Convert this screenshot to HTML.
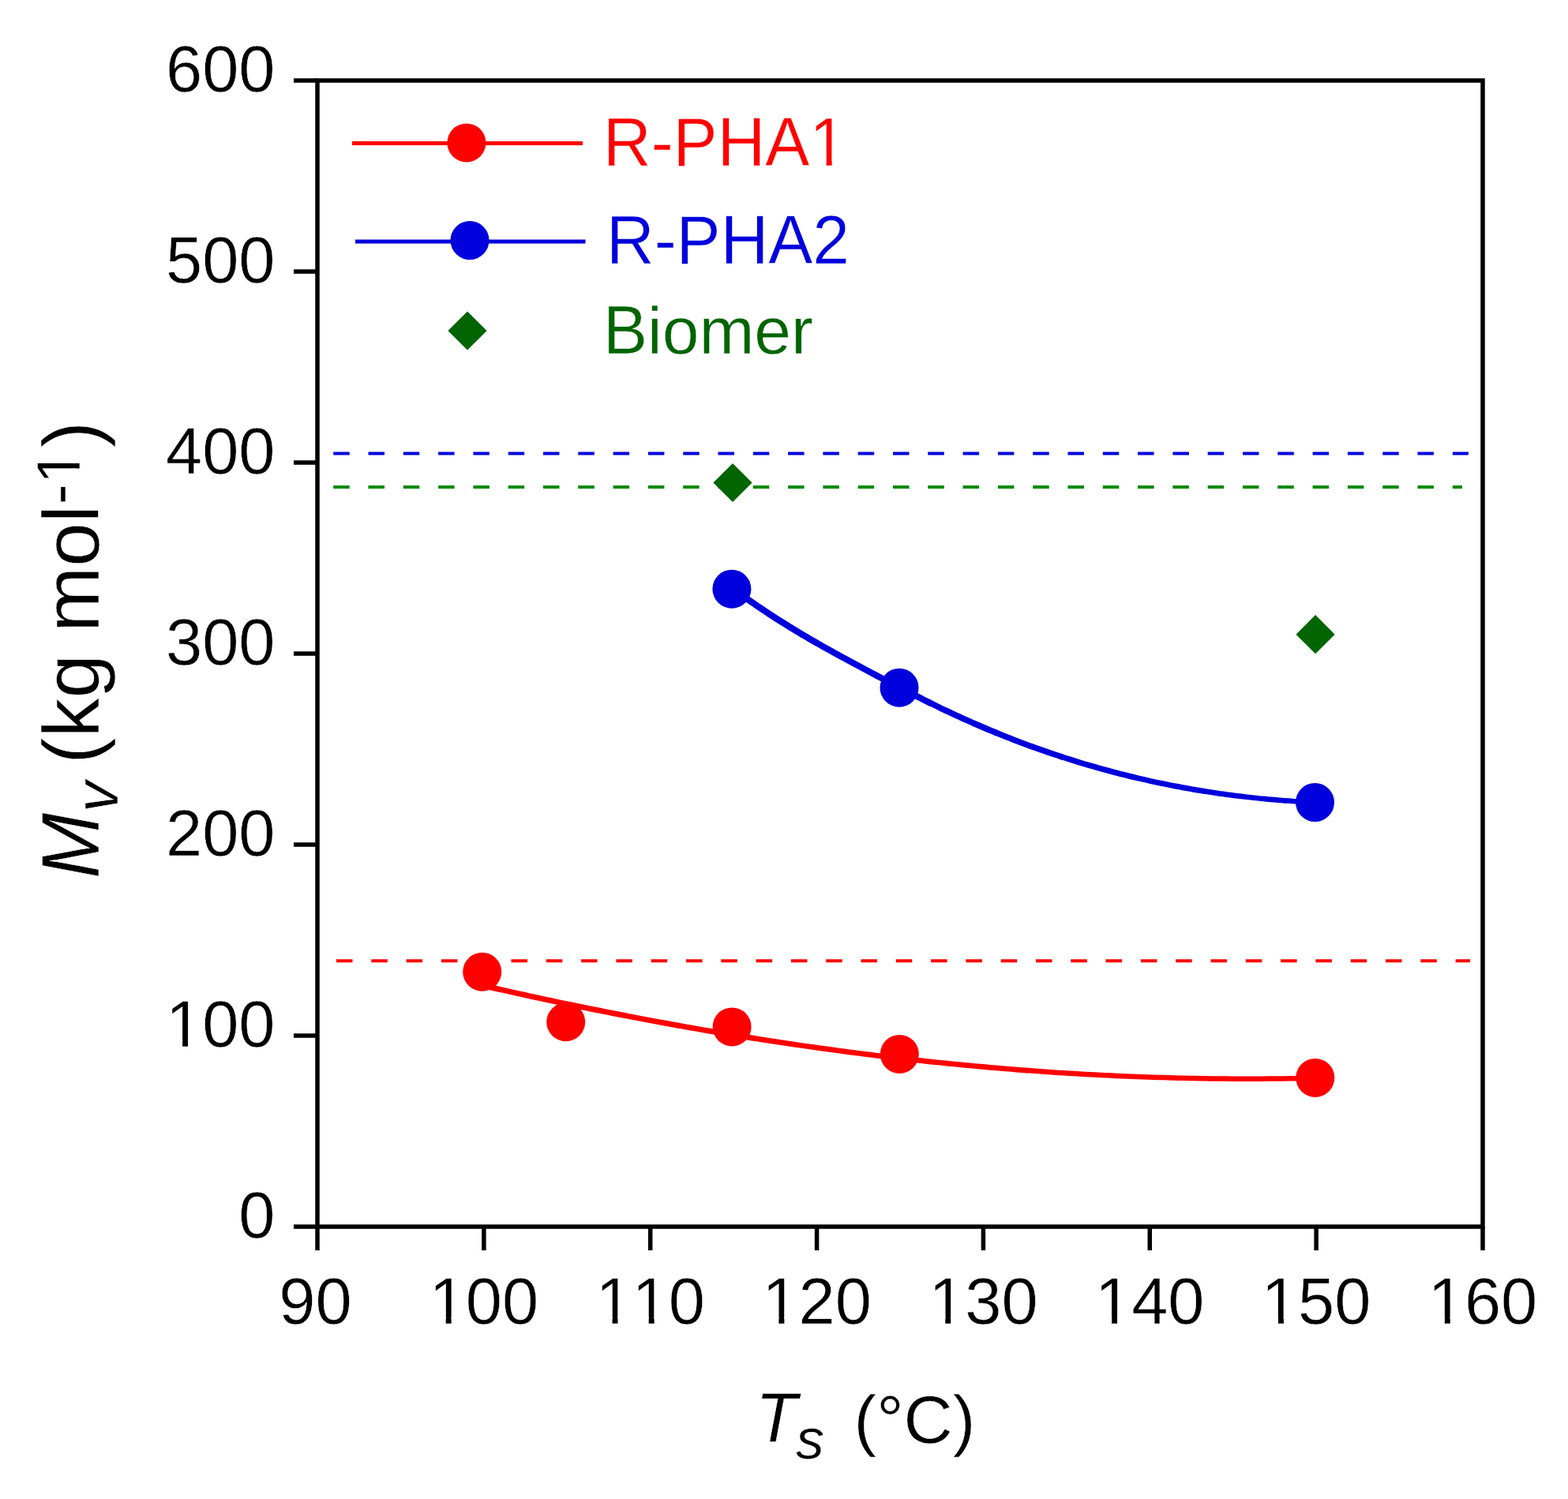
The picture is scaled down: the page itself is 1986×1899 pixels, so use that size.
<!DOCTYPE html>
<html><head><meta charset="utf-8"><title>Mv vs Ts</title>
<style>html,body{margin:0;padding:0;background:#fff;overflow:hidden;}svg{display:block;}text{font-kerning:none;stroke:#fff;stroke-width:0.5px;paint-order:fill;}</style>
</head><body>
<svg width="1986" height="1899" viewBox="0 0 1986 1899">
<rect width="1986" height="1899" fill="#fff"/>
<g fill="none" stroke-width="4" stroke-dasharray="20.5 23.8">
<line x1="422.2" y1="574.5" x2="1860" y2="574.5" stroke="#0000dc"/>
<line x1="422.2" y1="617" x2="1852" y2="617" stroke="#008a00"/>
<line x1="426" y1="1217.2" x2="1862" y2="1217.2" stroke="#ff0000"/>
</g>
<g fill="none" stroke="#ff0000" stroke-linecap="round" stroke-linejoin="round"><path d="M611.0,1248.4 L617.6,1250.0 L624.3,1251.5 L630.9,1253.0 L637.5,1254.4 L644.2,1255.9 L650.8,1257.4 L657.4,1258.9 L664.1,1260.3 L670.7,1261.8 L677.4,1263.2 L684.0,1264.6 L690.6,1266.1 L697.3,1267.5 L703.9,1268.9 L710.5,1270.3 L717.2,1271.7 L723.8,1273.0 L730.4,1274.4 L737.1,1275.8 L743.7,1277.1 L750.3,1278.5 L757.0,1279.8 L763.6,1281.1 L770.2,1282.4 L776.9,1283.7 L783.5,1285.0 L790.2,1286.3 L796.8,1287.6 L803.4,1288.9 L810.1,1290.1 L816.7,1291.4 L823.3,1292.6 L830.0,1293.9 L836.6,1295.1 L843.2,1296.3 L849.9,1297.5 L856.5,1298.7 L863.1,1299.9 L869.8,1301.1 L876.4,1302.2 L883.0,1303.4 L889.7,1304.6 L896.3,1305.7 L902.9,1306.8 L909.6,1307.9 L916.2,1309.1 L922.9,1310.2 L929.5,1311.2 L936.1,1312.3 L942.8,1313.4 L949.4,1314.5 L956.0,1315.5" stroke-width="7.0"/><path d="M956.0,1315.5 L962.7,1316.6 L969.3,1317.6 L975.9,1318.6 L982.6,1319.6 L989.2,1320.6 L995.8,1321.6 L1002.5,1322.6 L1009.1,1323.6 L1015.7,1324.5 L1022.4,1325.5 L1029.0,1326.4 L1035.7,1327.4 L1042.3,1328.3 L1048.9,1329.2 L1055.6,1330.1 L1062.2,1331.0 L1068.8,1331.9 L1075.5,1332.8 L1082.1,1333.6 L1088.7,1334.5 L1095.4,1335.3 L1102.0,1336.1 L1108.6,1337.0 L1115.3,1337.8 L1121.9,1338.6 L1128.5,1339.4 L1135.2,1340.1 L1141.8,1340.9 L1148.5,1341.7 L1155.1,1342.4 L1161.7,1343.1 L1168.4,1343.9 L1175.0,1344.6 L1181.6,1345.3 L1188.3,1346.0 L1194.9,1346.7 L1201.5,1347.3 L1208.2,1348.0 L1214.8,1348.6 L1221.4,1349.3 L1228.1,1349.9 L1234.7,1350.5 L1241.3,1351.1 L1248.0,1351.7 L1254.6,1352.3 L1261.3,1352.9 L1267.9,1353.4 L1274.5,1354.0 L1281.2,1354.5 L1287.8,1355.1 L1294.4,1355.6 L1301.1,1356.1" stroke-width="6.75"/><path d="M1301.1,1356.1 L1307.7,1356.6 L1314.3,1357.0 L1321.0,1357.5 L1327.6,1358.0 L1334.2,1358.4 L1340.9,1358.9 L1347.5,1359.3 L1354.1,1359.7 L1360.8,1360.1 L1367.4,1360.5 L1374.1,1360.9 L1380.7,1361.2 L1387.3,1361.6 L1394.0,1361.9 L1400.6,1362.3 L1407.2,1362.6 L1413.9,1362.9 L1420.5,1363.2 L1427.1,1363.5 L1433.8,1363.8 L1440.4,1364.0 L1447.0,1364.3 L1453.7,1364.5 L1460.3,1364.7 L1466.9,1364.9 L1473.6,1365.1 L1480.2,1365.3 L1486.8,1365.5 L1493.5,1365.7 L1500.1,1365.8 L1506.8,1366.0 L1513.4,1366.1 L1520.0,1366.2 L1526.7,1366.3 L1533.3,1366.4 L1539.9,1366.5 L1546.6,1366.6 L1553.2,1366.6 L1559.8,1366.7 L1566.5,1366.7 L1573.1,1366.7 L1579.7,1366.7 L1586.4,1366.7 L1593.0,1366.7 L1599.6,1366.7 L1606.3,1366.6 L1612.9,1366.6 L1619.6,1366.5 L1626.2,1366.4 L1632.8,1366.3 L1639.5,1366.2 L1646.1,1366.1 L1652.7,1365.9 L1659.4,1365.8 L1666.0,1365.6" stroke-width="6.5"/></g>
<g fill="none" stroke="#0000dc" stroke-linecap="round" stroke-linejoin="round"><path d="M927.0,744.8 L931.6,748.2 L936.3,751.6 L940.9,754.9 L945.6,758.2 L950.2,761.5 L954.9,764.7 L959.5,767.9 L964.2,771.0 L968.8,774.1 L973.4,777.2 L978.1,780.2 L982.7,783.2 L987.4,786.2 L992.0,789.1 L996.7,792.0 L1001.3,794.9 L1006.0,797.7 L1010.6,800.5 L1015.2,803.3 L1019.9,806.0 L1024.5,808.8 L1029.2,811.5 L1033.8,814.1" stroke-width="8.25"/><path d="M1033.8,814.1 L1038.5,816.8 L1043.1,819.4 L1047.8,822.0 L1052.4,824.6 L1057.1,827.2 L1061.7,829.8 L1066.3,832.3 L1071.0,834.8 L1075.6,837.3 L1080.3,839.8 L1084.9,842.3 L1089.6,844.8 L1094.2,847.3 L1098.9,849.7 L1103.5,852.2 L1108.1,854.6 L1112.8,857.1 L1117.4,859.5 L1122.1,861.9 L1126.7,864.4 L1131.4,866.8 L1136.0,869.2 L1140.7,871.6 L1145.3,874.0 L1149.9,876.4 L1154.6,878.7 L1159.2,881.1 L1163.9,883.4 L1168.5,885.8 L1173.2,888.1 L1177.8,890.4" stroke-width="8.0"/><path d="M1177.8,890.4 L1182.5,892.6 L1187.1,894.9 L1191.7,897.2 L1196.4,899.4 L1201.0,901.6 L1205.7,903.8 L1210.3,905.9 L1215.0,908.1 L1219.6,910.2 L1224.3,912.3 L1228.9,914.3 L1233.5,916.4 L1238.2,918.4 L1242.8,920.4 L1247.5,922.4 L1252.1,924.3 L1256.8,926.3 L1261.4,928.2" stroke-width="7.75"/><path d="M1261.4,928.2 L1266.1,930.1 L1270.7,931.9 L1275.3,933.8 L1280.0,935.6 L1284.6,937.4 L1289.3,939.2 L1293.9,940.9 L1298.6,942.7 L1303.2,944.4 L1307.9,946.1 L1312.5,947.8 L1317.2,949.4 L1321.8,951.0 L1326.4,952.6 L1331.1,954.2 L1335.7,955.8 L1340.4,957.3 L1345.0,958.9" stroke-width="7.5"/><path d="M1345.0,958.9 L1349.7,960.4 L1354.3,961.8 L1359.0,963.3 L1363.6,964.7 L1368.2,966.2 L1372.9,967.6 L1377.5,968.9 L1382.2,970.3 L1386.8,971.6 L1391.5,973.0 L1396.1,974.2 L1400.8,975.5 L1405.4,976.8 L1410.0,978.0 L1414.7,979.2 L1419.3,980.4 L1424.0,981.6 L1428.6,982.7 L1433.3,983.9" stroke-width="7.25"/><path d="M1433.3,983.9 L1437.9,985.0 L1442.6,986.1 L1447.2,987.2 L1451.8,988.2 L1456.5,989.3 L1461.1,990.3 L1465.8,991.3 L1470.4,992.2 L1475.1,993.2 L1479.7,994.1 L1484.4,995.1 L1489.0,996.0 L1493.6,996.8 L1498.3,997.7 L1502.9,998.5 L1507.6,999.4 L1512.2,1000.2 L1516.9,1001.0 L1521.5,1001.7 L1526.2,1002.5" stroke-width="7.0"/><path d="M1526.2,1002.5 L1530.8,1003.2 L1535.4,1003.9 L1540.1,1004.6 L1544.7,1005.3 L1549.4,1005.9 L1554.0,1006.6 L1558.7,1007.2 L1563.3,1007.8 L1568.0,1008.4 L1572.6,1008.9 L1577.3,1009.5 L1581.9,1010.0 L1586.5,1010.5 L1591.2,1011.0 L1595.8,1011.5 L1600.5,1011.9 L1605.1,1012.4 L1609.8,1012.8 L1614.4,1013.2 L1619.1,1013.6 L1623.7,1014.0 L1628.3,1014.3" stroke-width="6.75"/><path d="M1628.3,1014.3 L1633.0,1014.6 L1637.6,1015.0 L1642.3,1015.3 L1646.9,1015.5 L1651.6,1015.8 L1656.2,1016.0 L1660.9,1016.3 L1665.5,1016.5" stroke-width="6.5"/></g>
<circle cx="610.7" cy="1231.2" r="24.5" fill="#ff0000"/>
<circle cx="716.7" cy="1294.7" r="24.5" fill="#ff0000"/>
<circle cx="927.1" cy="1300.9" r="24.5" fill="#ff0000"/>
<circle cx="1139.3" cy="1335.4" r="24.5" fill="#ff0000"/>
<circle cx="1665.8" cy="1365.4" r="24.5" fill="#ff0000"/>
<circle cx="926.9" cy="746.2" r="24.5" fill="#0000dc"/>
<circle cx="1139" cy="871.2" r="24.5" fill="#0000dc"/>
<circle cx="1665.5" cy="1016.5" r="24.5" fill="#0000dc"/>
<path d="M928,586.9 L952.6,611.5 L928,636.1 L903.4,611.5 Z" fill="#006400"/>
<path d="M1666.1,779.1 L1690.6999999999998,803.7 L1666.1,828.3000000000001 L1641.5,803.7 Z" fill="#006400"/>
<g stroke="#000" stroke-width="5.5" fill="none" stroke-linecap="butt">
<rect x="402.0" y="102.0" width="1476.0" height="1452.0" stroke-linejoin="miter"/>
<line x1="372.0" y1="1554.00" x2="402.0" y2="1554.00"/>
<line x1="372.0" y1="1312.00" x2="402.0" y2="1312.00"/>
<line x1="372.0" y1="1070.00" x2="402.0" y2="1070.00"/>
<line x1="372.0" y1="828.00" x2="402.0" y2="828.00"/>
<line x1="372.0" y1="586.00" x2="402.0" y2="586.00"/>
<line x1="372.0" y1="344.00" x2="402.0" y2="344.00"/>
<line x1="372.0" y1="102.00" x2="402.0" y2="102.00"/>
<line x1="402.00" y1="1554.0" x2="402.00" y2="1584.0"/>
<line x1="612.86" y1="1554.0" x2="612.86" y2="1584.0"/>
<line x1="823.71" y1="1554.0" x2="823.71" y2="1584.0"/>
<line x1="1034.57" y1="1554.0" x2="1034.57" y2="1584.0"/>
<line x1="1245.43" y1="1554.0" x2="1245.43" y2="1584.0"/>
<line x1="1456.29" y1="1554.0" x2="1456.29" y2="1584.0"/>
<line x1="1667.14" y1="1554.0" x2="1667.14" y2="1584.0"/>
<line x1="1878.00" y1="1554.0" x2="1878.00" y2="1584.0"/>
</g>
<g font-family="Liberation Sans, Arial, sans-serif" font-size="83" fill="#000">
<text x="348.5" y="1568.2" text-anchor="end">0</text>
<text x="348.5" y="1326.2" text-anchor="end">100</text>
<text x="348.5" y="1084.2" text-anchor="end">200</text>
<text x="348.5" y="842.2" text-anchor="end">300</text>
<text x="348.5" y="600.2" text-anchor="end">400</text>
<text x="348.5" y="358.2" text-anchor="end">500</text>
<text x="348.5" y="116.2" text-anchor="end">600</text>
<text x="399.5" y="1677.3" text-anchor="middle">90</text>
<text x="612.9" y="1677.3" text-anchor="middle">100</text>
<text x="823.7" y="1677.3" text-anchor="middle">110</text>
<text x="1034.6" y="1677.3" text-anchor="middle">120</text>
<text x="1245.4" y="1677.3" text-anchor="middle">130</text>
<text x="1456.3" y="1677.3" text-anchor="middle">140</text>
<text x="1667.1" y="1677.3" text-anchor="middle">150</text>
<text x="1878.0" y="1677.3" text-anchor="middle">160</text>
</g>
<rect x="547.79" y="1668.59" width="16.89" height="10.21" fill="#fff"/>
<rect x="571.65" y="1668.59" width="15.98" height="10.21" fill="#fff"/>
<rect x="758.64" y="1668.59" width="16.89" height="10.21" fill="#fff"/>
<rect x="782.50" y="1668.59" width="15.98" height="10.21" fill="#fff"/>
<rect x="804.79" y="1668.59" width="16.89" height="10.21" fill="#fff"/>
<rect x="828.65" y="1668.59" width="15.98" height="10.21" fill="#fff"/>
<rect x="969.50" y="1668.59" width="16.89" height="10.21" fill="#fff"/>
<rect x="993.36" y="1668.59" width="15.98" height="10.21" fill="#fff"/>
<rect x="1180.36" y="1668.59" width="16.89" height="10.21" fill="#fff"/>
<rect x="1204.22" y="1668.59" width="15.98" height="10.21" fill="#fff"/>
<rect x="1391.21" y="1668.59" width="16.89" height="10.21" fill="#fff"/>
<rect x="1415.08" y="1668.59" width="15.98" height="10.21" fill="#fff"/>
<rect x="1602.07" y="1668.59" width="16.89" height="10.21" fill="#fff"/>
<rect x="1625.93" y="1668.59" width="15.98" height="10.21" fill="#fff"/>
<rect x="1812.93" y="1668.59" width="16.89" height="10.21" fill="#fff"/>
<rect x="1836.79" y="1668.59" width="15.98" height="10.21" fill="#fff"/>
<rect x="214.21" y="1317.49" width="16.89" height="10.21" fill="#fff"/>
<rect x="238.07" y="1317.49" width="15.98" height="10.21" fill="#fff"/>
<g transform="translate(124.5,1113.0) rotate(-90)" font-family="Liberation Sans, Arial, sans-serif" fill="#000">
<text x="0" y="0" font-size="100" font-style="italic" transform="scale(1,1.03)">M</text>
<text x="84.0" y="24" font-size="78" font-style="italic">v</text>
<text x="145.2" y="0" font-size="100">(kg mol</text>
<text x="473.8" y="-24" font-size="78">-1</text>
<rect x="503.67" y="-32.19" width="15.89" height="9.69" fill="#fff"/>
<rect x="526.08" y="-32.19" width="15.03" height="9.69" fill="#fff"/>
<text x="546.0" y="0" font-size="100">)</text>
</g>
<g font-family="Liberation Sans, Arial, sans-serif" fill="#000">
<text x="957.0" y="1827.5" font-size="86" font-style="italic" transform="matrix(1 0 0 1.04 0 -73.100)">T</text>
<text x="1008.0" y="1847.5" font-size="72" font-style="italic">s</text>
<text x="1081.5" y="1827.5" font-size="86">(°C)</text>
</g>
<line x1="446" y1="181.5" x2="738" y2="181.5" stroke="#ff0000" stroke-width="5"/>
<circle cx="590.9" cy="180.9" r="24.5" fill="#ff0000"/>
<line x1="450" y1="306" x2="741.5" y2="306" stroke="#0000dc" stroke-width="5"/>
<circle cx="595" cy="304.5" r="24.5" fill="#0000dc"/>
<path d="M592,394.4 L616.6,419 L592,443.6 L567.4,419 Z" fill="#006400"/>
<g font-family="Liberation Sans, Arial, sans-serif" font-size="84">
<text x="764" y="210.5" fill="#ff0000" transform="matrix(1 0 0 1.04 0 -8.420)">R-PHA1</text>
<g transform="matrix(1 0 0 1.04 0 -8.420)"><rect x="1029.52" y="201.68" width="17.09" height="10.32" fill="#fff"/><rect x="1053.68" y="201.68" width="16.17" height="10.32" fill="#fff"/></g>
<text x="768" y="334.5" fill="#0000dc" transform="matrix(1 0 0 1.04 0 -13.380)">R-PHA2</text>
<text x="764" y="447.6" fill="#006400" transform="matrix(1 0 0 1.04 0 -17.904)">B</text>
<text x="820.03" y="447.6" fill="#006400">iomer</text>
</g>
</svg>
</body></html>
